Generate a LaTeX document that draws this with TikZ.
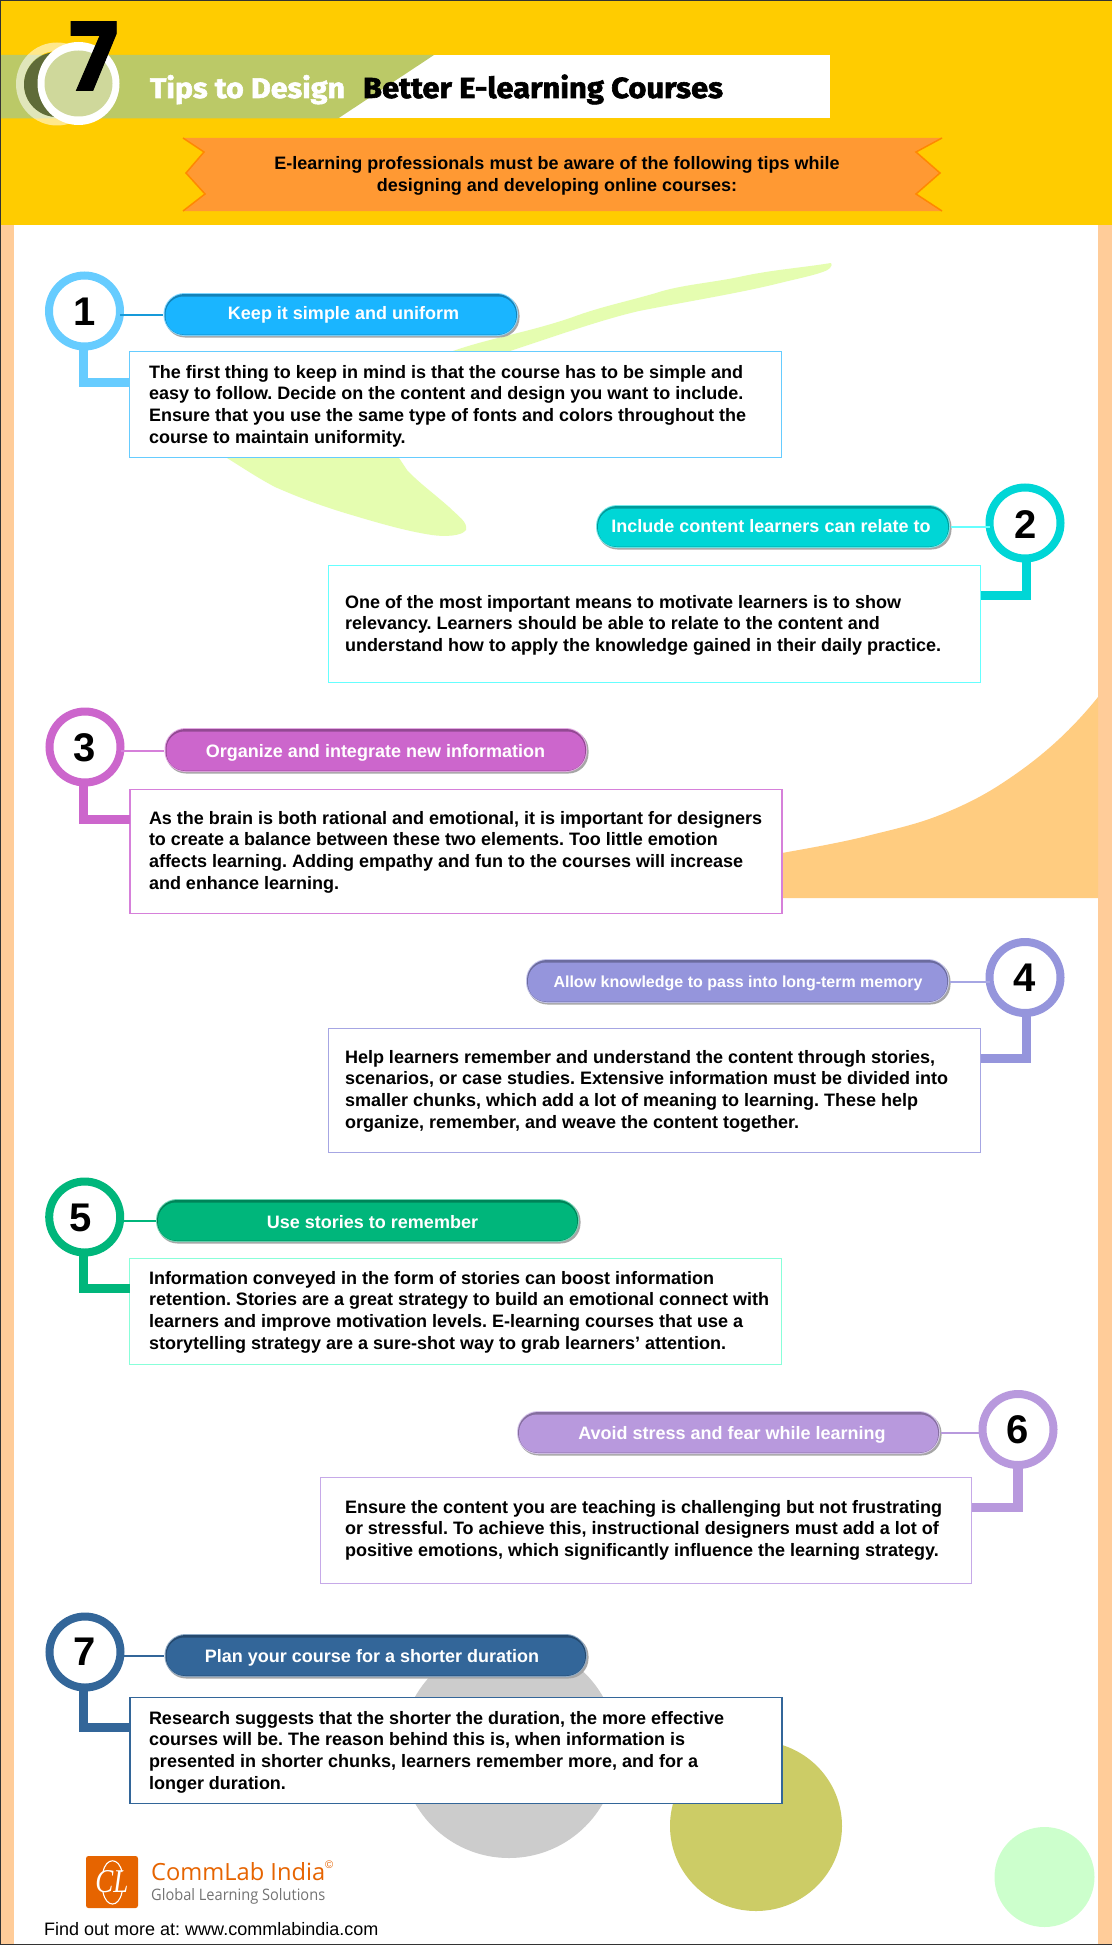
\documentclass[tikz,border=0pt]{standalone}
\usepackage{fontspec}
\setmainfont{Liberation Sans}
\newfontfamily\titlefont{Fira Sans}[BoldFeatures={FakeBold=2}]
\newfontfamily\sevenfont{Poppins}[BoldFeatures={FakeBold=1}]
\newfontfamily\logofont{Open Sans}
\newfontfamily\clfont{Liberation Serif}
\frenchspacing
\definecolor{hdr}{HTML}{FFCC00}
\definecolor{side}{HTML}{FFCC99}
\definecolor{band}{HTML}{BBC967}
\definecolor{ribbon}{HTML}{FF9933}
\definecolor{ribedge}{HTML}{FF8800}
\definecolor{leaf}{HTML}{E5FDB0}
\definecolor{swoosh}{HTML}{FFCC80}
\definecolor{greyball}{HTML}{CCCCCC}
\definecolor{oliveball}{HTML}{CCCC66}
\definecolor{mintball}{HTML}{CCFFCC}
\definecolor{ringdark}{HTML}{5F6B38}
\definecolor{ringin}{HTML}{CFD89B}
\definecolor{tipa}{HTML}{1AB5FF}
\definecolor{ringa}{HTML}{66CCFF}
\definecolor{tipb}{HTML}{00D6D6}
\definecolor{boxb}{HTML}{66FFFF}
\definecolor{tipc}{HTML}{CC66CC}
\definecolor{boxc}{HTML}{D680DA}
\definecolor{tipd}{HTML}{9595DC}
\definecolor{boxd}{HTML}{A6A6E3}
\definecolor{tipe}{HTML}{00B67B}
\definecolor{boxe}{HTML}{88FFD9}
\definecolor{tipf}{HTML}{B899DD}
\definecolor{boxf}{HTML}{C6A9E8}
\definecolor{tipg}{HTML}{336699}
\definecolor{logo}{HTML}{E66400}
\tikzset{
  ring/.style={circle,draw=#1,line width=8pt,fill=white,minimum size=71pt,inner sep=0pt,outer sep=0pt},
  tbox/.style={rectangle,draw=#1,line width=1.6pt,fill=white,inner sep=0pt,outer sep=0pt},
  bodytext/.style={anchor=north west,inner sep=0pt,outer sep=0pt,align=left,text=black,
    font=\fontsize{18pt}{21.67pt}\selectfont\bfseries},
  pilltext/.style={anchor=base,inner sep=0pt,text=white,font=\fontsize{18pt}{21pt}\selectfont\bfseries},
  digit/.style={anchor=base,inner sep=0pt,text=black,font=\fontsize{40pt}{44pt}\selectfont\bfseries},
  thin/.style={draw=#1,line width=1.5pt,shorten >=2.5pt},
  elbow/.style={draw=#1,line width=9.5pt,line join=miter},
}
\newcommand\tippill[6]{% name, colour, cx, cy, w, h
  \fill[black!35,rounded corners=20pt] (#3-#5/2+1.5,#4-#6/2+2) rectangle (#3+#5/2+1.5,#4+#6/2+1.5);
  \fill[#2!55!white,rounded corners=21pt] (#3-#5/2,#4-#6/2) rectangle (#3+#5/2,#4+#6/2);
  \fill[#2!72!black,rounded corners=20pt] (#3-#5/2+1,#4-#6/2+1) rectangle (#3+#5/2-1,#4+#6/2-1);
  \node[rectangle,fill=#2,rounded corners=18pt,inner sep=0pt,outer sep=0pt,minimum width=#5pt-4pt,minimum height=#6pt-5pt] (#1) at (#3,#4+1) {};
}
\newcommand\tiptext[4]{\node[bodytext] (#1) at (#2,#3-14) {\rule{0pt}{14pt}#4};}
\begin{document}
\begin{tikzpicture}[x=1pt,y=-1pt]
\useasboundingbox (0,0) rectangle (1112,1945);
% ---- page ground
\fill[white] (0,0) rectangle (1112,1945);
\fill[side] (0,225) rectangle (14,1945);
\fill[side] (1098,225) rectangle (1112,1945);
% ---- decorations
\fill[leaf] (831,263) .. controls (800,268) and (770,270) .. (739,277)
  .. controls (710,283) and (680,285) .. (656,293)
  .. controls (625,302) and (600,307) .. (573,317)
  .. controls (530,332) and (490,338) .. (453,351)
  -- (227,458)
  .. controls (243,468) and (258,478) .. (275,487)
  .. controls (300,498) and (322,506) .. (345,513)
  .. controls (375,522) and (405,531) .. (432,535)
  .. controls (445,537) and (462,536) .. (466,530)
  .. controls (468,522) and (458,516) .. (449,507)
  .. controls (432,492) and (418,482) .. (407,470)
  -- (399,458) -- (507,352)
  .. controls (550,338) and (600,320) .. (639,311)
  .. controls (690,301) and (740,293) .. (780,283)
  .. controls (800,278) and (826,273) .. (830,268)
  .. controls (832,266) and (832,264) .. (831,263) -- cycle;
\fill[swoosh] (775,854) -- (782,853) .. controls (810,848) and (838,843) .. (863,837)
  .. controls (890,830) and (915,825) .. (940,815)
  .. controls (965,805) and (985,795) .. (1007,780)
  .. controls (1040,758) and (1070,732) .. (1098,697)
  -- (1098,898) -- (775,898) -- cycle;
\fill[greyball] (509,1750) circle[radius=108pt];
\fill[oliveball] (756,1826) ellipse[x radius=86pt,y radius=85pt];
\fill[mintball] (1044.5,1877) circle[radius=50pt];
% ---- header
\fill[hdr] (0,0) rectangle (1112,225);
\fill[white] (330,55) rectangle (830,118.5);
\fill[band] (0,55) -- (434,55) -- (338,118.5) -- (0,118.5) -- cycle;
\fill[white,opacity=.55,even odd rule] (57,84) ellipse[x radius=41pt,y radius=41.5pt] (57,84) ellipse[x radius=33pt,y radius=33pt];
\fill[ringdark] (57,84.5) ellipse[x radius=33pt,y radius=32.5pt];
\fill[white] (78.5,83.5) ellipse[x radius=41pt,y radius=41.5pt];
\fill[ringin] (78.5,83.5) ellipse[x radius=34pt,y radius=33pt];
\node[anchor=base,inner sep=0pt,text=black] (seven) at (93.5,90.5) {\sevenfont\bfseries\resizebox{50pt}{69pt}{7}};
\node[anchor=base,inner sep=0pt,text=white] (titlea) at (247.5,98) {\titlefont\bfseries\resizebox{195pt}{23pt}{Tips to Design}};
\node[anchor=base,inner sep=0pt,text=black] (titleb) at (543,98) {\titlefont\bfseries\resizebox{360pt}{23.5pt}{Better E-learning Courses}};
\fill[ribbon] (183,138) -- (204,152) -- (186,173) -- (205,194) -- (183,211) -- (942,211) -- (916,194) -- (940,173) -- (916,152) -- (942,138) -- cycle;
\draw[ribedge,line width=1.5pt,line join=miter] (183,138) -- (204,152) -- (186,173) -- (205,194) -- (183,211);
\draw[ribedge,line width=1.5pt,line join=miter] (942,138) -- (916,152) -- (940,173) -- (916,194) -- (942,211);
\node[bodytext,anchor=north,align=center] (intro) at (557,156) {\rule{0pt}{14pt}E-learning professionals must be aware of the following tips while\\designing and developing online courses:};
% ---- tip 1
\tippill{p1}{tipa}{340.75}{314.5}{354.5}{43}
\node[tbox=ringa,minimum width=652pt,minimum height=106pt] (b1) at (455.5,404.5) {};
\node[ring=ringa] (c1) at (84.5,311) {};
\coordinate (j1) at (83.5,382.5); \coordinate (n1) at (0,315);
\draw[thin=tipa!85!black] (c1.east|-n1) -- (p1.west|-n1);
\draw[elbow=ringa] (j1|-c1.south) -- (j1) -- (j1-|b1.west);
\node[digit] (d1) at (84.5,325) {1};
\node[pilltext] (pt1) at (343.5,319) {Keep it simple and uniform};
\tiptext{t1}{149}{378}{The first thing to keep in mind is that the course has to be simple and\\easy to follow. Decide on the content and design you want to include.\\Ensure that you use the same type of fonts and colors throughout the\\course to maintain uniformity.}
% ---- tip 2
\tippill{p2}{tipb}{773}{526.5}{354}{43}
\node[tbox=boxb,minimum width=652pt,minimum height=117pt] (b2) at (654.5,624) {};
\node[ring=tipb] (c2) at (1025,523) {};
\coordinate (j2) at (1026.5,595.5); \coordinate (n2) at (0,527);
\draw[thin=boxb] (c2.west|-n2) -- (p2.east|-n2);
\draw[elbow=tipb] (j2|-c2.south) -- (j2) -- (j2-|b2.east);
\node[digit] (d2) at (1025.5,538) {2};
\node[pilltext] (pt2) at (771,532) {Include content learners can relate to};
\tiptext{t2}{345}{608}{One of the most important means to motivate learners is to show\\relevancy. Learners should be able to relate to the content and\\understand how to apply the knowledge gained in their daily practice.}
% ---- tip 3
\tippill{p3}{tipc}{375.75}{750}{422.5}{44}
\node[tbox=boxc,minimum width=652pt,minimum height=124pt] (b3) at (456,851.5) {};
\node[ring=tipc] (c3) at (85,747) {};
\coordinate (j3) at (83.5,819.5); \coordinate (n3) at (0,751);
\draw[thin=boxc] (c3.east|-n3) -- (p3.west|-n3);
\draw[elbow=tipc] (j3|-c3.south) -- (j3) -- (j3-|b3.west);
\node[digit] (d3) at (85,761) {3};
\node[pilltext] (pt3) at (375.5,757) {Organize and integrate new information};
\tiptext{t3}{149}{824}{As the brain is both rational and emotional, it is important for designers\\to create a balance between these two elements. Too little emotion\\affects learning. Adding empathy and fun to the courses will increase\\and enhance learning.}
% ---- tip 4
\tippill{p4}{tipd}{737.5}{981}{423}{44}
\node[tbox=boxd,minimum width=652pt,minimum height=124pt] (b4) at (654.5,1090.5) {};
\node[ring=tipd] (c4) at (1025,977.5) {};
\coordinate (j4) at (1026.5,1058.5); \coordinate (n4) at (0,982);
\draw[thin=boxd] (c4.west|-n4) -- (p4.east|-n4);
\draw[elbow=tipd] (j4|-c4.south) -- (j4) -- (j4-|b4.east);
\node[digit] (d4) at (1025,991) {4};
\node[pilltext,font=\fontsize{16pt}{20pt}\selectfont\bfseries] (pt4) at (738,987) {Allow knowledge to pass into long-term memory};
\tiptext{t4}{345}{1063}{Help learners remember and understand the content through stories,\\scenarios, or case studies. Extensive information must be divided into\\smaller chunks, which add a lot of meaning to learning. These help\\organize, remember, and weave the content together.}
% ---- tip 5
\tippill{p5}{tipe}{367.5}{1220.5}{423}{43}
\node[tbox=boxe,minimum width=652pt,minimum height=106pt] (b5) at (455.5,1311.5) {};
\node[ring=tipe] (c5) at (84.7,1217) {};
\coordinate (j5) at (83.5,1288.5); \coordinate (n5) at (0,1221);
\draw[thin=tipe] (c5.east|-n5) -- (p5.west|-n5);
\draw[elbow=tipe] (j5|-c5.south) -- (j5) -- (j5-|b5.west);
\node[digit] (d5) at (81,1231) {5};
\node[pilltext] (pt5) at (372.5,1228) {Use stories to remember};
\tiptext{t5}{149}{1284}{Information conveyed in the form of stories can boost information\\retention. Stories are a great strategy to build an emotional connect with\\learners and improve motivation levels. E-learning courses that use a\\storytelling strategy are a sure-shot way to grab learners’ attention.}
% ---- tip 6
\tippill{p6}{tipf}{728.5}{1432.5}{423}{43}
\node[tbox=boxf,minimum width=651pt,minimum height=106pt] (b6) at (646,1530.5) {};
\node[ring=tipf] (c6) at (1018,1429.5) {};
\coordinate (j6) at (1018,1507.5); \coordinate (n6) at (0,1433);
\draw[thin=tipf] (c6.west|-n6) -- (p6.east|-n6);
\draw[elbow=tipf] (j6|-c6.south) -- (j6) -- (j6-|b6.east);
\node[digit] (d6) at (1018,1443) {6};
\node[pilltext] (pt6) at (732,1439) {Avoid stress and fear while learning};
\tiptext{t6}{345}{1513}{Ensure the content you are teaching is challenging but not frustrating\\or stressful. To achieve this, instructional designers must add a lot of\\positive emotions, which significantly influence the learning strategy.}
% ---- tip 7
\tippill{p7}{tipg}{375.75}{1655.5}{422.5}{43}
\node[tbox=tipg,minimum width=652pt,minimum height=106pt] (b7) at (456,1750.5) {};
\node[ring=tipg] (c7) at (85,1652) {};
\coordinate (j7) at (83.5,1727.5); \coordinate (n7) at (0,1656);
\draw[thin=tipg] (c7.east|-n7) -- (p7.west|-n7);
\draw[elbow=tipg] (j7|-c7.south) -- (j7) -- (j7-|b7.west);
\node[digit] (d7) at (85,1665) {7};
\node[pilltext] (pt7) at (372,1662) {Plan your course for a shorter duration};
\tiptext{t7}{149}{1724}{Research suggests that the shorter the duration, the more effective\\courses will be. The reason behind this is, when information is\\presented in shorter chunks, learners remember more, and for a\\longer duration.}
% ---- logo
\node[rectangle,fill=logo,rounded corners=2.5pt,minimum size=52pt,inner sep=0pt,outer sep=0pt] (lg) at (112,1882) {};
\draw[white,line width=1.1pt] (103,1872) .. controls (106,1857) and (119,1857) .. (122,1872);
\draw[white,line width=1.1pt] (103,1892) .. controls (106,1908) and (119,1908) .. (122,1892);
\node[anchor=base,inner sep=0pt,text=white] (cl) at (112,1892) {\clfont\itshape\resizebox{33pt}{22pt}{CL}};
\node[anchor=base west,inner sep=0pt,text=logo] (lga) at (151,1880) {\logofont\resizebox{174pt}{18pt}{CommLab India}};
\node[anchor=base west,inner sep=0pt,text=logo,font=\fontsize{11pt}{12pt}\selectfont] (lgc) at (325,1868) {©};
\node[anchor=base west,inner sep=0pt,text=black!55] (lgb) at (151,1900) {\logofont\resizebox{174pt}{12pt}{Global Learning Solutions}};
\node[anchor=base west,inner sep=0pt,text=black,font=\fontsize{18pt}{20pt}\selectfont] (find) at (44,1935) {Find out more at: www.commlabindia.com};
% ---- dark rim
\fill[black!80] (0,0) rectangle (1112,1);
\fill[black!80] (0,0) rectangle (1.2,1945);
\fill[black!80] (0,1943.5) rectangle (1112,1945);
\end{tikzpicture}
\end{document}
